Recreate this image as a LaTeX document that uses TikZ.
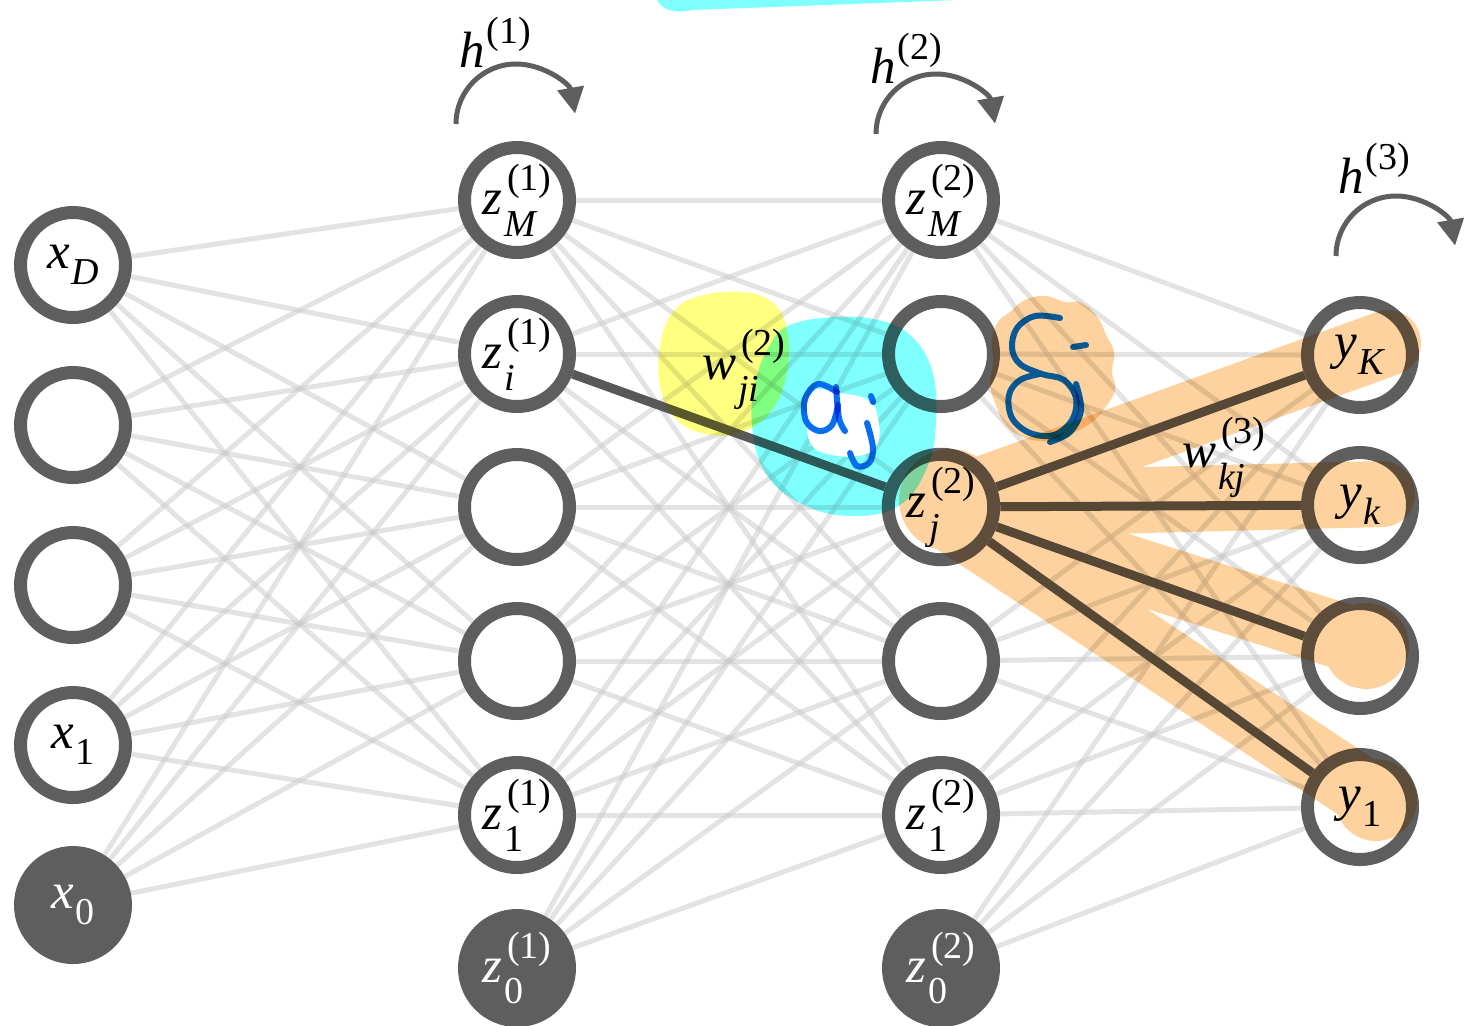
\documentclass[tikz,border=0pt]{standalone}
\usepackage{fontspec}
\setmainfont{Liberation Serif}
\usetikzlibrary{arrows.meta}

\definecolor{ring}{HTML}{5E5E5E}
\definecolor{edgegray}{HTML}{C8C8C8}
\definecolor{strong}{HTML}{585858}
\definecolor{hlorange}{RGB}{253,210,158}
\definecolor{hlcyan}{RGB}{128,255,255}
\definecolor{hlyellow}{RGB}{255,255,128}
\definecolor{pen}{RGB}{10,110,240}

% label helpers: base letter with stacked sub/superscript
\newcommand\scr{\fontsize{19}{19}\selectfont}
\newcommand\I[1]{\textit{#1}}
\newcommand\lbl[3]{\textit{#1}\kern.03em\rlap{\raisebox{-.43em}{\scr #2}}\kern.06em\raisebox{.47em}{\scr #3}}
\newcommand\lbs[2]{\textit{#1}\kern.02em\raisebox{-.32em}{\scr #2}}
\newcommand\lsup[2]{\textit{#1}\kern.04em\raisebox{.47em}{\scr #2}}

\pgfdeclarelayer{edges}
\pgfdeclarelayer{marks}
\pgfdeclarelayer{ink}
\pgfsetlayers{edges,main,marks,ink}

\tikzset{
  unit/.style={circle, draw=ring, line width=6.5pt, fill=white, minimum size=52.5pt,
    inner sep=0pt, font=\fontsize{25.5}{30}\selectfont},
  bias/.style={unit, fill=ring, text=white},
  edge/.style={draw=edgegray, line width=2.5pt, opacity=.5},
  strongedge/.style={draw=strong, line width=4.5pt},
  cycle arrow/.style={draw=ring, line width=2.5pt, -{Triangle[length=13pt,width=13pt]}},
  tag/.style={font=\fontsize{25.5}{30}\selectfont, inner sep=0pt},
  handwriting/.style={draw=pen, line width=3pt, line cap=round, line join=round},
}

\begin{document}
\begin{tikzpicture}[x=0.5pt,y=-0.5pt]
\useasboundingbox (0,0) rectangle (1471,1025);

% ---- input layer
\node[unit] (xD) at (73,265) {\lbs{x}{\I{D}}};
\node[unit] (i2) at (73,425) {};
\node[unit] (i3) at (73,585) {};
\node[unit] (x1) at (73,745) {\lbs{x}{1}};
\node[bias] (x0) at (73,905) {\lbs{x}{0}};

% ---- first hidden layer
\node[unit] (a1) at (517,200) {\lbl{z}{\I{M}}{(1)}};
\node[unit] (a2) at (517,354) {\lbl{z}{\I{i}}{(1)}};
\node[unit] (a3) at (517,507) {};
\node[unit] (a4) at (517,661) {};
\node[unit] (a5) at (517,815) {\lbl{z}{1}{(1)}};
\node[bias] (a6) at (517,968) {\lbl{z}{0}{(1)}};

% ---- second hidden layer
\node[unit] (b1) at (941,200) {\lbl{z}{\I{M}}{(2)}};
\node[unit] (b2) at (941,354) {};
\node[unit] (b3) at (941,507) {\lbl{z}{\kern.05em\I{j}}{(2)}};
\node[unit] (b4) at (941,661) {};
\node[unit] (b5) at (941,815) {\lbl{z}{1}{(2)}};
\node[bias] (b6) at (941,968) {\lbl{z}{0}{(2)}};

% ---- output layer
\node[unit] (c1) at (1360,355) {\lbs{y}{\I{K}}};
\node[unit] (c2) at (1360,505) {\lbs{y}{\I{k}}};
\node[unit] (c3) at (1360,656) {};
\node[unit] (c4) at (1360,807) {\lbs{y}{1}};

% ---- activation arrows
\draw[cycle arrow] (456,124) arc[start angle=180, end angle=350, radius=60];
\draw[cycle arrow] (876,134) arc[start angle=180, end angle=350, radius=60];
\draw[cycle arrow] (1336,256) arc[start angle=180, end angle=350, radius=60];
\node[tag] (h1) at (495,42) {\lsup{h}{(1)}};
\node[tag] (h2) at (906,58) {\lsup{h}{(2)}};
\node[tag] (h3) at (1374,168) {\lsup{h}{(3)}};

% ---- weights
\begin{pgfonlayer}{edges}
  \foreach \s in {xD,i2,i3,x1,x0}
    \foreach \t in {a1,a2,a3,a4,a5}
      \draw[edge] (\s) -- (\t);
  \foreach \s in {a1,a2,a3,a4,a5,a6}
    \foreach \t in {b1,b2,b3,b4,b5}
      \draw[edge] (\s) -- (\t);
  \foreach \s in {b1,b2,b3,b4,b5,b6}
    \foreach \t in {c1,c2,c3,c4}
      \draw[edge] (\s) -- (\t);
  \draw[strongedge] (a2) -- (b3);
  \foreach \t in {c1,c2,c3,c4}
    \draw[strongedge] (b3) -- (\t);
\end{pgfonlayer}

% ---- highlighter marks (multiplied onto the drawing)
\begin{pgfonlayer}{marks}
  \begin{scope}[blend mode=multiply]
    % stroke along the top edge
    \fill[hlcyan] (655,-12) -- (657,0) .. controls (662,10) and (675,14) .. (692,10)
      -- (958,0) -- (958,-12) -- cycle;
    % yellow patch behind w_ji
    \fill[hlyellow] plot[smooth cycle, tension=.7] coordinates {
      (700,296) (740,292) (772,302) (787,330) (787,372) (772,410) (742,432)
      (706,434) (676,419) (660,386) (661,340) (675,310)};
    % cyan patch for a_j
    \fill[hlcyan] plot[smooth cycle, tension=.7] coordinates {
      (790,325) (835,317) (878,320) (910,335) (932,370) (936,420) (928,465)
      (900,505) (850,516) (800,503) (765,472) (752,425) (756,380) (770,345)};
    % orange strokes from z_j to the outputs, painted as one path
    \draw[hlorange, line width=33pt, line cap=round, line join=round]
      (950,500) circle[radius=18]
      (945,503) -- (1388,343)
      (945,505) -- (1382,494)
      (945,510) -- (1366,644)
      (1366,646) circle[radius=10]
      (945,515) -- (1376,800)
      (1376,800) circle[radius=8];
    % orange cloud for delta_j
    \fill[hlorange] plot[smooth cycle, tension=.75] coordinates {
      (1010,312) (1025,300) (1045,296) (1065,302) (1082,303) (1098,318)
      (1106,335) (1114,352) (1112,372) (1115,390) (1105,408) (1092,422)
      (1075,432) (1060,440) (1040,441) (1020,436) (1005,424) (996,405)
      (990,385) (993,362) (992,340) (998,322)};
  \end{scope}
  % erased spot
  \fill[white] plot[smooth cycle, tension=.7] coordinates {
    (812,391) (840,393) (868,400) (878,418) (877,445) (858,456) (828,454)
    (811,444) (807,420)};
\end{pgfonlayer}

% ---- handwriting
\begin{pgfonlayer}{ink}
  \begin{scope}[blend mode=multiply]
    % a
    \draw[handwriting] plot[smooth, tension=.6] coordinates {
      (837,392) (818,384) (805,399) (806,421) (819,431) (832,425) (838,405)};
    \draw[handwriting] plot[smooth, tension=.6] coordinates {
      (836,387) (839,418) (845,431)};
    % j
    \draw[handwriting] (871,396) -- (873,402);
    \draw[handwriting] plot[smooth, tension=.6] coordinates {
      (867,423) (873,448) (869,463) (857,466) (850,453)};
    % delta
    \draw[handwriting] plot[smooth, tension=.6] coordinates {
      (1060,318) (1035,316) (1017,328) (1012,348) (1020,364) (1042,374)
      (1064,380) (1076,398) (1072,420) (1054,435) (1030,433) (1012,418)
      (1009,395) (1020,380) (1040,374)};
    % j
    \draw[handwriting] (1073,347) -- (1086,345);
    \draw[handwriting] plot[smooth, tension=.6] coordinates {
      (1076,384) (1081,410) (1070,432) (1050,442)};
  \end{scope}
  \node[tag] (wji) at (744,369) {\lbl{w}{\I{ji}}{(2)}};
  \node[tag] (wkj) at (1224,457) {\lbl{w}{\I{kj}}{(3)}};
\end{pgfonlayer}
\end{tikzpicture}
\end{document}
